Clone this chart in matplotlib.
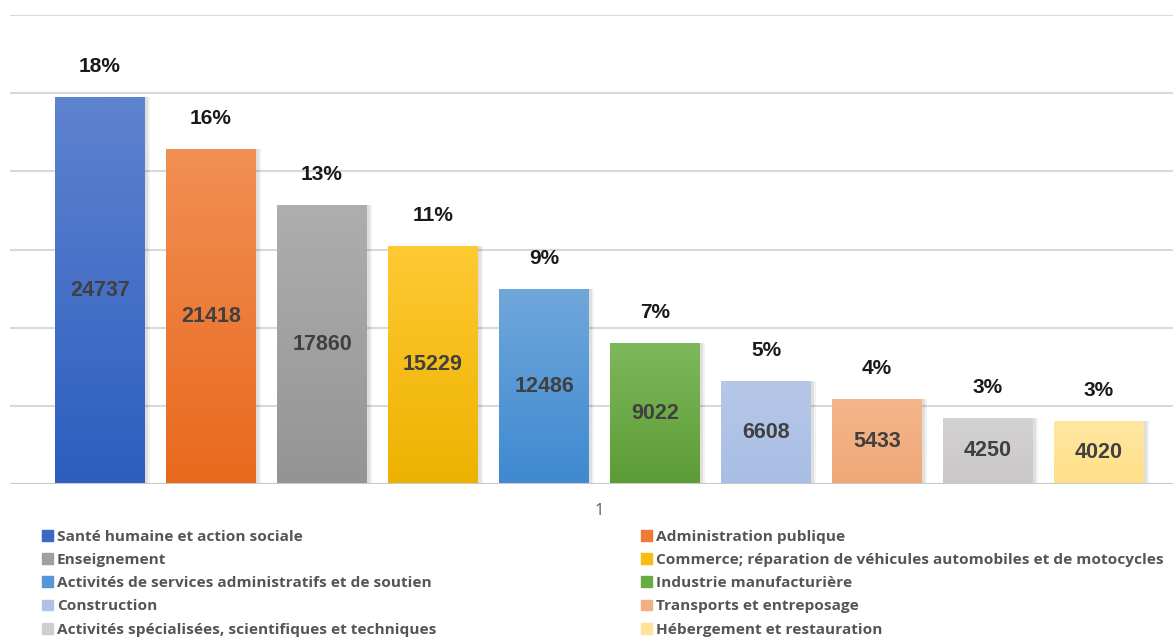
import numpy as np
import matplotlib
matplotlib.use('Agg')
import matplotlib.pyplot as plt
from matplotlib.patches import Rectangle
from matplotlib.colors import to_rgb

# data
sectors = ["Santé humaine et action sociale", "Administration publique",
           "Enseignement", "Commerce; réparation de véhicules automobiles et de motocycles",
           "Activités de services administratifs et de soutien", "Industrie manufacturière",
           "Construction", "Transports et entreposage",
           "Activités spécialisées, scientifiques et techniques", "Hébergement et restauration"]
effectifs = [24737, 21418, 17860, 15229, 12486, 9022, 6608, 5433, 4250, 4020]
parts = ["18%", "16%", "13%", "11%", "9%", "7%", "5%", "4%", "3%", "3%"]
category = "1"

# gradient colours (top, bottom) and legend colour
tops = ["#5E83CF", "#F28F55", "#AEAEAE", "#FFC933", "#70A7DB",
        "#7EB85B", "#B6C8E8", "#F4B68C", "#D4D2D2", "#FFE7A2"]
bottoms = ["#2C5EBF", "#E8691C", "#949494", "#EDB200", "#3E89D0",
           "#5C9C35", "#A9BEE5", "#EFA777", "#C9C7C7", "#FFDF88"]
legcols = ["#3B67C6", "#EE7A33", "#A0A0A0", "#F8BD10", "#5598D6",
           "#6AAA45", "#AFC3E6", "#F2AF82", "#CFCDCD", "#FFE396"]

W, H = 1173, 639
fig = plt.figure(figsize=(W/100, H/100), dpi=100)
ax = fig.add_axes([10/W, 1-484/H, 1-10/W, (484-15)/H])

x = np.arange(len(effectifs))
width = 90/111
ax.set_xlim(-90/111, (1173-100)/111)
ax.set_ylim(0, 30000)

for g in range(5000, 30001, 5000):
    ax.axhline(g, color="#D9D9D9", lw=1.5, zorder=0)
ax.axhline(0, color="#C8C8C8", lw=1.5, zorder=5)

bars = ax.bar(x, effectifs, width, color="none", zorder=3)
for i, b in enumerate(bars):
    x0, h = b.get_x(), b.get_height()
    # soft shadow
    for k, a in zip([0.045, 0.025], [0.05, 0.08]):
        ax.add_patch(Rectangle((x0+k, 0), width, h-k*200, color="k", alpha=a,
                               lw=0, zorder=2))
    c1, c2 = np.array(to_rgb(tops[i])), np.array(to_rgb(bottoms[i]))
    t = np.linspace(0, 1, 128)[:, None]
    grad = (c1*(1-t) + c2*t)[:, None, :]
    im = ax.imshow(grad, extent=[x0, x0+width, 0, h], origin="upper",
                   aspect="auto", zorder=3, interpolation="bilinear")
    im.set_clip_path(b)
    ax.text(b.get_x()+width/2, h/2, str(effectifs[i]), ha="center", va="center",
            fontsize=15.5, fontweight="bold", color="#404040",
            family="Liberation Sans", zorder=6)
    ax.annotate(parts[i], (b.get_x()+width/2, h), xytext=(0, 22),
                textcoords="offset points", ha="center", va="center",
                fontsize=15, fontweight="bold", color="#1A1A1A",
                family="Liberation Sans", zorder=6)

ax.set_xticks([])
ax.set_yticks([])
for s in ax.spines.values():
    s.set_visible(False)
fig.text(599/W, 1-511/H, category, ha="center", va="center",
         fontsize=12, color="#595959", family="Open Sans")

# legend, two columns
handles = [Rectangle((0, 0), 1, 1, color=c) for c in legcols]
for col, xs in ((0, 34), (1, 633)):
    idx = list(range(col, len(sectors), 2))
    fig.legend([handles[i] for i in idx], [sectors[i] for i in idx],
               loc="upper left", bbox_to_anchor=(xs/W, 1-522/H),
               frameon=False, handlelength=0.7, handleheight=0.7,
               handletextpad=0.3, labelspacing=0.6, borderpad=0,
               prop={"family": "Open Sans", "weight": "bold", "size": 11.1},
               labelcolor="#555555")

fig.savefig("out.png", dpi=100)
